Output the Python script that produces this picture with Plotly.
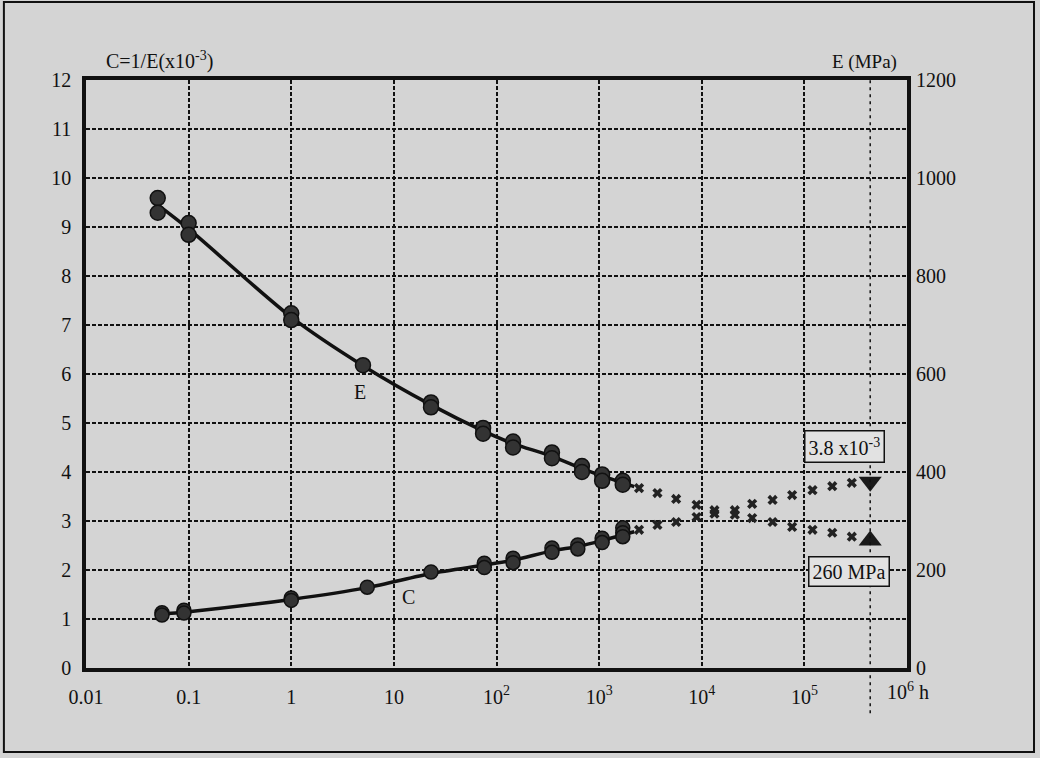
import math
import plotly.graph_objects as go

# ---------------- data ----------------
# Modulus E (MPa) measured points
E_hours = [0.05, 0.05, 0.1, 0.1, 1, 1, 5, 23, 23, 74, 74, 145, 145, 347, 347, 680, 680, 1070, 1070, 1700, 1700]
E_mpa = [959, 929, 908, 884, 724, 710, 618, 542, 532, 490, 478, 462, 450, 440, 428, 412, 400, 395, 382, 382, 374]
# Compliance C = 1/E (x10^-3) measured points
C_hours = [0.055, 0.055, 0.09, 0.09, 1, 1, 5.5, 23, 76, 76, 145, 145, 347, 347, 620, 620, 1070, 1070, 1700, 1700, 1700]
C_vals = [1.13, 1.08, 1.18, 1.12, 1.43, 1.38, 1.65, 1.96, 2.14, 2.05, 2.24, 2.15, 2.45, 2.36, 2.51, 2.43, 2.65, 2.56, 2.86, 2.76, 2.68]
# Fitted (solid) curves
E_fit_hours = [0.05, 0.1, 1, 5, 23, 74, 145, 347, 680, 1070, 2200]
E_fit = [945, 896, 716, 617, 537, 484, 458, 432, 407, 392, 370]
C_fit_hours = [0.05, 0.1, 1, 5.5, 23, 76, 145, 347, 620, 1070, 2200]
C_fit = [1.10, 1.15, 1.40, 1.64, 1.93, 2.10, 2.20, 2.39, 2.48, 2.60, 2.78]
# Extrapolated (dotted) parts
ext_hours = [2450, 3700, 5630, 8900, 13300, 21000, 31000, 49000, 76000, 120000, 187000, 290000]
E_ext = [367, 357, 345, 333, 322, 313, 306, 298, 288, 282, 276, 268]
C_ext = [2.82, 2.92, 2.98, 3.08, 3.15, 3.22, 3.35, 3.43, 3.53, 3.63, 3.71, 3.78]
# 50-year end values
design_hours = 438000
C_end = 3.8
E_end = 260

x_tickvals = [0.01, 0.1, 1, 10, 100, 1000, 10000, 100000]
x_ticktext = ["0.01", "0.1", "1", "10", "10<sup>2</sup>", "10<sup>3</sup>", "10<sup>4</sup>", "10<sup>5</sup>"]
left_ticks = list(range(0, 13))
right_ticks = [0, 200, 400, 600, 800, 1000, 1200]

FONT = "Liberation Serif"
INK = "#111111"
BG = "#d4d4d4"

fig = go.Figure()

# fitted lines
fig.add_trace(go.Scatter(x=E_fit_hours, y=E_fit, yaxis="y2", mode="lines",
                         line=dict(color=INK, width=3.5, shape="spline", smoothing=0.8), showlegend=False))
fig.add_trace(go.Scatter(x=C_fit_hours, y=C_fit, mode="lines",
                         line=dict(color=INK, width=3.5, shape="spline", smoothing=0.8), showlegend=False))
# measured points
fig.add_trace(go.Scatter(x=E_hours, y=E_mpa, yaxis="y2", mode="markers",
                         marker=dict(symbol="circle", size=15, color="#333333",
                                     line=dict(color=INK, width=1.5)), showlegend=False))
fig.add_trace(go.Scatter(x=C_hours, y=C_vals, mode="markers",
                         marker=dict(symbol="circle", size=14, color="#333333",
                                     line=dict(color=INK, width=1.5)), showlegend=False))
# extrapolation marks
fig.add_trace(go.Scatter(x=ext_hours, y=E_ext, yaxis="y2", mode="markers",
                         marker=dict(symbol="x", size=9, color="#222222"), showlegend=False))
fig.add_trace(go.Scatter(x=ext_hours, y=C_ext, mode="markers",
                         marker=dict(symbol="x", size=9, color="#222222"), showlegend=False))
# end triangles
fig.add_trace(go.Scatter(x=[design_hours], y=[C_end], mode="markers",
                         marker=dict(symbol="triangle-down", size=20, color="#1a1a1a"), showlegend=False))
fig.add_trace(go.Scatter(x=[design_hours], y=[E_end], yaxis="y2", mode="markers",
                         marker=dict(symbol="triangle-up", size=20, color="#1a1a1a"), showlegend=False))

grid = dict(showgrid=True, gridcolor=INK, gridwidth=1.6, griddash="4px,2px")

fig.update_layout(
    width=1040, height=758,
    margin=dict(l=86, r=133, t=80, b=90),
    paper_bgcolor=BG, plot_bgcolor=BG,
    font=dict(family=FONT, color=INK, size=20),
    xaxis=dict(type="log", range=[-2, 6], tickvals=x_tickvals, ticktext=x_ticktext,
               showline=True, linecolor=INK, linewidth=3.5, mirror=True,
               ticks="", ticklabelstandoff=8, zeroline=False, **grid),
    yaxis=dict(range=[0, 12], tickvals=left_ticks, showline=True, linecolor=INK,
               linewidth=3.5, mirror=True, ticks="", ticklabelstandoff=7,
               zeroline=False, **grid),
    yaxis2=dict(range=[0, 1200], tickvals=right_ticks, overlaying="y", side="right",
                showgrid=False, ticks="", ticklabelstandoff=8, zeroline=False),
)

# vertical dashed 50-year line
fig.add_shape(type="line", xref="x", yref="paper", x0=design_hours, x1=design_hours,
              y0=-0.077, y1=1.0, line=dict(color=INK, width=1.5, dash="3px,4px"))
# outer frame
fig.add_shape(type="rect", xref="paper", yref="paper", x0=-0.1, x1=1.1547,
              y0=-0.1429, y1=1.1327, line=dict(color=INK, width=2))

fig.add_annotation(xref="paper", yref="paper", x=0.09, y=1.008, xanchor="center", yanchor="bottom",
                   text="C=1/E(x10<sup>-3</sup>)", showarrow=False, font=dict(size=20))
fig.add_annotation(xref="paper", yref="paper", x=0.948, y=1.008, xanchor="center", yanchor="bottom",
                   text="E (MPa)", showarrow=False, font=dict(size=19))
fig.add_annotation(xref="x", yref="paper", x=6, y=-0.015, xshift=-22, xanchor="left",
                   yanchor="top", text="10<sup>6</sup> h", showarrow=False, font=dict(size=20))
fig.add_annotation(xref="x", yref="y", x=math.log10(4.67), y=5.63, text="E", showarrow=False,
                   font=dict(size=20))
fig.add_annotation(xref="x", yref="y", x=math.log10(14), y=1.45, text="C", showarrow=False,
                   font=dict(size=20))
fig.add_annotation(xref="x", yref="y", x=math.log10(246000), y=4.53, text="3.8 x10<sup>-3</sup>",
                   showarrow=False, font=dict(size=20), bgcolor="#e2e2e2",
                   bordercolor=INK, borderwidth=1.5, borderpad=3)
fig.add_annotation(xref="x", yref="y", x=math.log10(275000), y=1.96, text="260 MPa",
                   showarrow=False, font=dict(size=20), bgcolor="#e2e2e2",
                   bordercolor=INK, borderwidth=1.5, borderpad=3)

fig.write_html("out.html")
